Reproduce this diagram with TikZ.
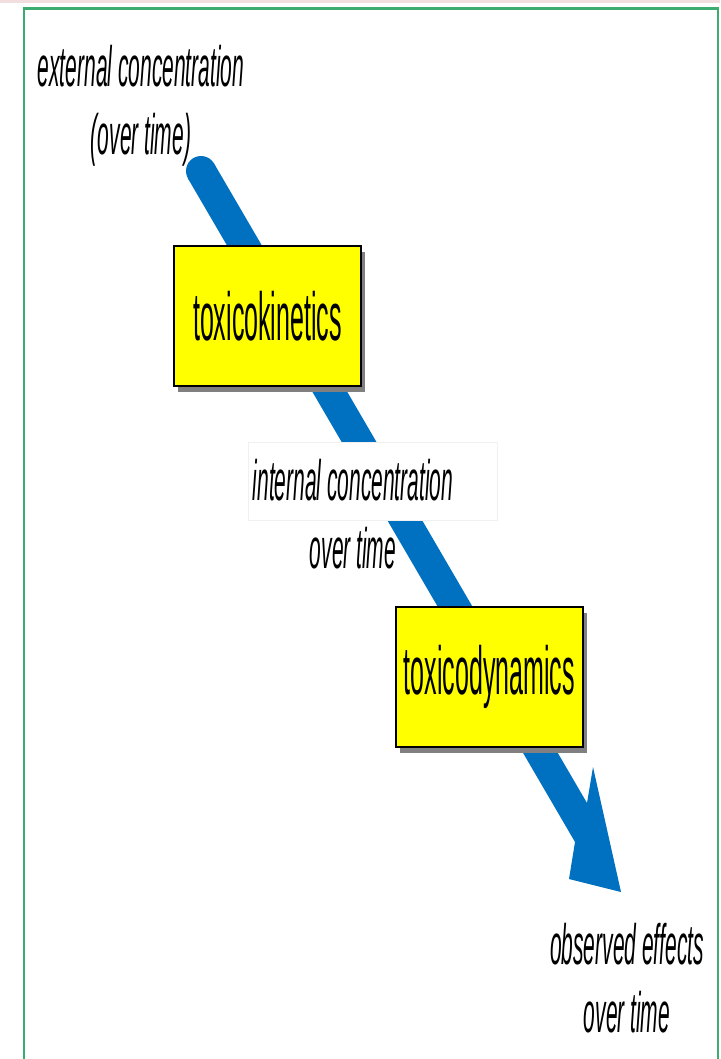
\documentclass[tikz,border=0pt]{standalone}
\usepackage{fontspec}
\newfontfamily\narrowsans[FakeStretch=0.368]{Liberation Sans}
\definecolor{arrowblue}{RGB}{0,112,192}
\definecolor{framegreen}{RGB}{60,172,112}
\definecolor{pinkstrip}{RGB}{242,222,222}
\definecolor{boxyellow}{RGB}{255,255,0}
\definecolor{shadowgray}{RGB}{128,128,128}
\tikzset{
  procbox/.style={draw=black, line width=2pt, fill=boxyellow, minimum width=187pt, minimum height=140pt, inner sep=0pt,
    font=\narrowsans\fontsize{68}{80}\selectfont,
    preaction={fill=shadowgray, transform canvas={xshift=4pt,yshift=-6pt}}},
  itlabel/.style={align=center, anchor=base, inner sep=0pt, font=\narrowsans\itshape\fontsize{57}{68}\selectfont},
}
\begin{document}
\begin{tikzpicture}[x=1pt,y=-1pt]
\useasboundingbox (0,0) rectangle (720,1059);
% top strip and frame
\fill[pinkstrip] (0,0) rectangle (720,3.5);
\draw[framegreen, line width=2.5pt] (24,1059) -- (24,8.5) -- (718,8.5) -- (718,1059);
% big blue arrow
\coordinate (tailC) at (201,171);
\coordinate (tailL) at (188,178.6);
\coordinate (tailR) at (214,163.4);
\coordinate (nL) at (575,842);
\coordinate (bL) at (569,879);
\coordinate (tip) at (621,892);
\coordinate (bR) at (593,767);
\coordinate (nR) at (587,803);
\fill[arrowblue] (tailL) -- (nL) -- (bL) -- (tip) -- (bR) -- (nR) -- (tailR) -- cycle;
\fill[arrowblue] (tailC) circle (15pt);
% white mask behind internal label
\path[fill=white, draw=black!6, line width=0.6pt] (248,442) rectangle (497,520);
% boxes
\node[procbox] (tk) at (267.5,316) {toxicokinetics};
\node[procbox] (td) at (489.5,676.5) {toxicodynamics};
% labels (base = baseline of last line)
\node[itlabel] (ext) at (141,155) {external concentration\\(over time)};
\node[itlabel] (int) at (353,568) {internal concentration\\over time};
\node[itlabel] (obs) at (627,1032) {observed effects\\over time};
\end{tikzpicture}
\end{document}
